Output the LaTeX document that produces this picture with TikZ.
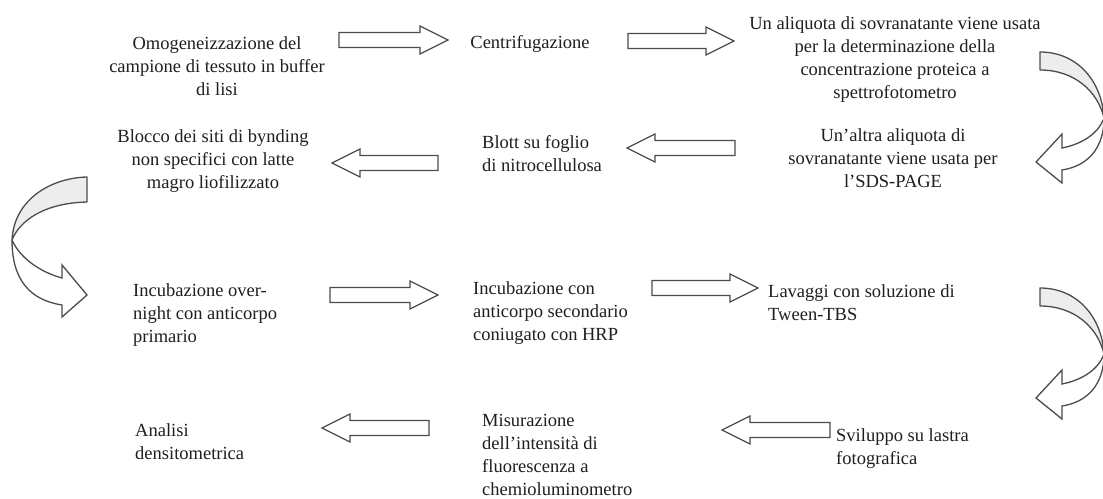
\documentclass[tikz,border=0pt]{standalone}
\usepackage{fontspec}
\setmainfont{Liberation Serif}
\begin{document}
\begin{tikzpicture}[x=1pt,y=-1pt,
  txt/.style={inner sep=0pt,font=\fontsize{18.5}{23}\selectfont,text=black!88},
  ctxt/.style={txt,align=center,anchor=north},
  ltxt/.style={txt,align=left,anchor=north west},
  blk/.style={draw=black!70,line width=1.3pt,fill=white,line join=miter},
  back/.style={draw=black!70,line width=1.3pt,fill=black!7,line join=round},
  front/.style={draw=black!70,line width=1.3pt,fill=white,line join=miter}]
\useasboundingbox[fill=white] (0,0) rectangle (1103,498);
% ---------- texts ----------
\node[ctxt] (t1) at (217,33) {\strut Omogeneizzazione del\\campione di tessuto in buffer\\di lisi};
\node[ctxt] (t2) at (530,32) {\strut Centrifugazione};
\node[ctxt] (t3) at (895,13) {\strut Un aliquota di sovranatante viene usata\\per la determinazione della\\concentrazione proteica a\\spettrofotometro};
\node[ctxt] (t4) at (893,125) {\strut Un’altra aliquota di\\sovranatante viene usata per\\l’SDS-PAGE};
\node[ltxt] (t5) at (482,132) {\strut Blott su foglio\\di nitrocellulosa};
\node[ctxt] (t6) at (213,126) {\strut Blocco dei siti di bynding\\non specifici con latte\\magro liofilizzato};
\node[ltxt] (t7) at (133,280) {\strut Incubazione over-\\night con anticorpo\\primario};
\node[ltxt] (t8) at (473,278) {\strut Incubazione con\\anticorpo secondario\\coniugato con HRP};
\node[ltxt] (t9) at (768,281) {\strut Lavaggi con soluzione di\\Tween-TBS};
\node[ltxt] (t10) at (836,425) {\strut Sviluppo su lastra\\fotografica};
\node[ltxt] (t11) at (482,410) {\strut Misurazione\\dell’intensità di\\fluorescenza a\\chemioluminometro};
\node[ltxt] (t12) at (135,420) {\strut Analisi\\densitometrica};
% ---------- block arrows ----------
\newcommand{\rblk}[3]{\draw[blk] (#1,#3-7.5) -- (#2-28,#3-7.5) -- (#2-28,#3-14) -- (#2,#3) -- (#2-28,#3+14) -- (#2-28,#3+7.5) -- (#1,#3+7.5) -- cycle;}
\newcommand{\lblk}[3]{\draw[blk] (#1,#3-7.5) -- (#2+28,#3-7.5) -- (#2+28,#3-14) -- (#2,#3) -- (#2+28,#3+14) -- (#2+28,#3+7.5) -- (#1,#3+7.5) -- cycle;}
\rblk{339}{448}{40}
\rblk{628}{734}{41}
\lblk{735}{627}{148}
\lblk{438}{332}{163}
\rblk{330}{438}{295}
\rblk{652}{758}{288}
\lblk{830}{722}{430}
\lblk{429}{322}{428}
% ---------- curved arrows ----------
\newcommand{\rcurve}{%
  \draw[back] (1040,52) .. controls (1078,52) and (1102,82) .. (1104,118)
     .. controls (1098,92) and (1075,70) .. (1040,70) -- cycle;
  \draw[front] (1104,118) .. controls (1104,148) and (1088,166) .. (1062,170)
     -- (1062,183) -- (1036,162) -- (1062,134) -- (1062,148)
     .. controls (1082,144) and (1098,134) .. (1104,118);}
\rcurve
\begin{scope}[shift={(0,236)}]
\rcurve
\end{scope}
\draw[back] (87,177) .. controls (50,178) and (14,200) .. (12,240)
   .. controls (20,220) and (45,203) .. (87,202) -- cycle;
\draw[front] (12,240) .. controls (12,280) and (30,300) .. (62,305)
   -- (62,317) -- (87,295) -- (62,265) -- (62,278)
   .. controls (40,272) and (20,258) .. (12,240);
\end{tikzpicture}
\end{document}
